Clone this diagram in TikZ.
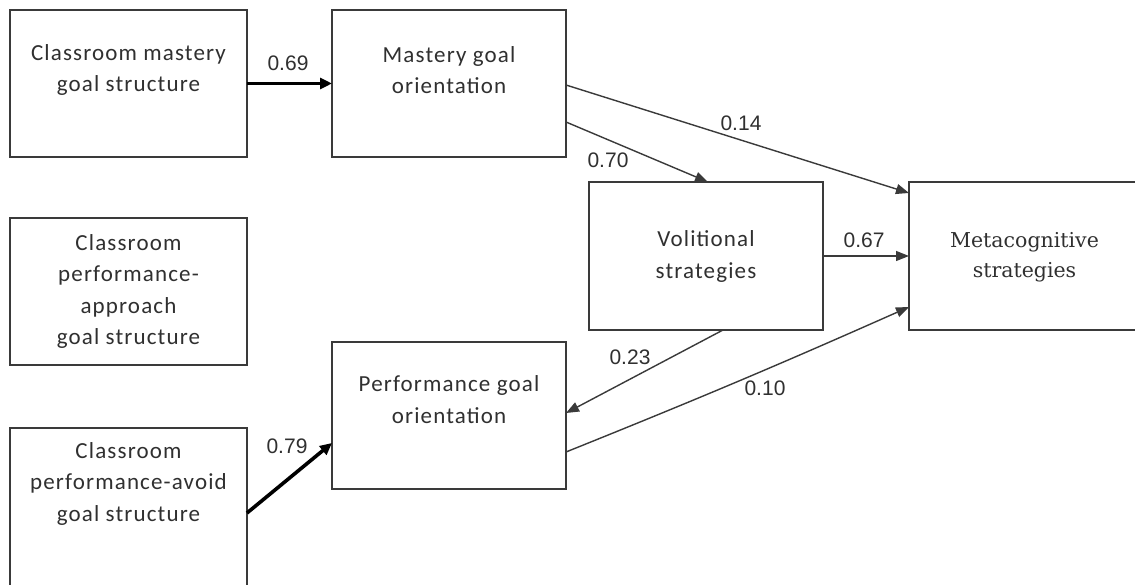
\documentclass[tikz,border=0pt]{standalone}
\usepackage{fontspec}
\setmainfont{Carlito}[LetterSpace=5]
\newfontfamily\numfont{Liberation Sans}
\newfontfamily\serfont{DejaVu Serif}
\usetikzlibrary{arrows.meta,calc}
\definecolor{ln}{HTML}{3A3A3A}
\definecolor{tx}{HTML}{303030}
\tikzset{
  box/.style={draw=ln,line width=1.4pt,rectangle,inner sep=0pt,outer sep=0pt},
  lbl/.style={align=center,text=tx,inner sep=0pt,font=\fontsize{23}{31.5}\selectfont},
  slbl/.style={align=center,text=tx,inner sep=0pt,font=\serfont\fontsize{20.5}{30}\selectfont},
  num/.style={text=tx,inner sep=0pt,font=\numfont\fontsize{21}{24}\selectfont},
  thin/.style={draw=ln,line width=1.4pt,-{Triangle[length=13pt,width=10pt]}},
  thick/.style={draw=black,line width=3.6pt,-{Triangle[length=12pt,width=11pt]}}
}
\begin{document}
\begin{tikzpicture}[x=1pt,y=-1pt]
\clip (0,0) rectangle (1135,585);
\fill[white] (0,0) rectangle (1135,585);
% boxes
\node[box,minimum width=237pt,minimum height=147pt] (A) at (128.5,83.5) {};
\node[box,minimum width=234pt,minimum height=147pt] (B) at (449,83.5) {};
\node[box,minimum width=237pt,minimum height=147pt] (C) at (128.5,291.5) {};
\node[box,minimum width=234pt,minimum height=148pt] (D) at (706,256) {};
\node[box,minimum width=231pt,minimum height=148pt] (E) at (1024.5,256) {};
\node[box,minimum width=234pt,minimum height=147pt] (F) at (449,415.5) {};
\node[box,minimum width=237pt,minimum height=170pt] (G) at (128.5,513) {};
% texts
\node[lbl] (At) at (128.5,70) {Classroom mastery\\goal structure};
\node[lbl] (Bt) at (449,70) {Mastery goal\\orientation};
\node[lbl] (Ct) at (128.5,291.5) {Classroom\\performance-\\approach\\goal structure};
\node[lbl] (Dt) at (706,256.5) {Volitional\\strategies};
\node[slbl] (Et) at (1024.5,257) {Metacognitive\\strategies};
\node[lbl] (Ft) at (449,399.5) {Performance goal\\orientation};
\node[lbl] (Gt) at (128.5,483.5) {Classroom\\performance-avoid\\goal structure};
% connection points
\coordinate (b1) at ($(B.north east)+(0,75)$);
\coordinate (e1) at ($(E.north west)+(0,11)$);
\coordinate (b2) at ($(B.north east)+(0,112)$);
\coordinate (d1) at ($(D.north west)+(119,0)$);
\coordinate (d2) at ($(D.south west)+(134,0)$);
\coordinate (f1) at ($(F.north east)+(0,71)$);
\coordinate (f2) at ($(F.north east)+(0,110)$);
\coordinate (e2) at ($(E.north west)+(0,125)$);
\coordinate (g1) at ($(G.north east)+(0,85)$);
\coordinate (f3) at ($(F.north west)+(0,101)$);
% arrows
\draw[thick] (A.east) -- (B.west);
\draw[thin] (b1) -- (e1);
\draw[thin] (b2) -- (d1);
\draw[thin] (D.east) -- (E.west);
\draw[thin] (d2) -- (f1);
\draw[thin] (f2) to[bend right=1] (e2);
\draw[thick] (g1) -- (f3);
% labels
\node[num] (n69) at (288,63) {0.69};
\node[num] (n14) at (741,123) {0.14};
\node[num] (n70) at (608,160) {0.70};
\node[num] (n67) at (864,240) {0.67};
\node[num] (n23) at (630,357) {0.23};
\node[num] (n10) at (765,388) {0.10};
\node[num] (n79) at (287,446) {0.79};
\end{tikzpicture}
\end{document}
